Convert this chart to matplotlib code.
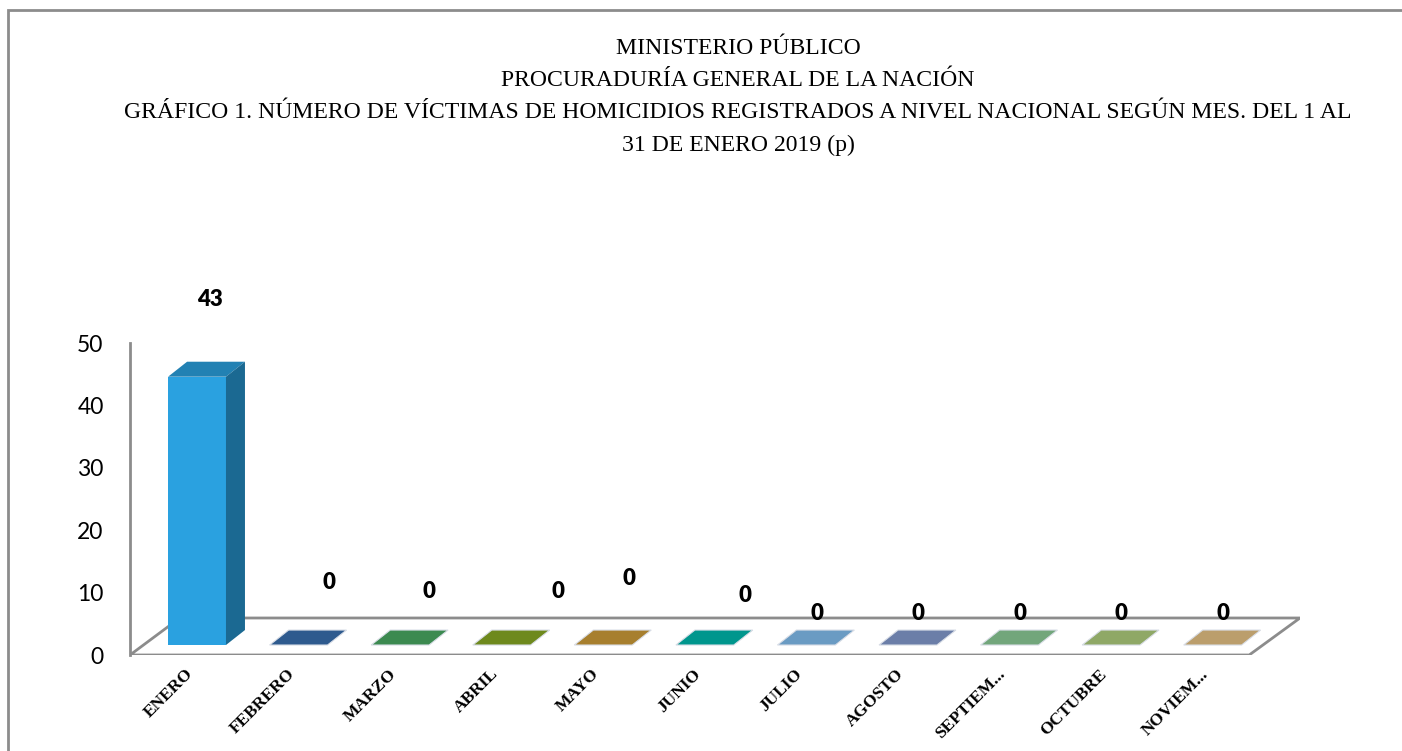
import matplotlib
matplotlib.use("Agg")
import matplotlib.pyplot as plt
import matplotlib.transforms as mtransforms
from matplotlib.patches import Polygon, Rectangle

# chart data
months = ["ENERO", "FEBRERO", "MARZO", "ABRIL", "MAYO", "JUNIO", "JULIO",
          "AGOSTO", "SEPTIEM...", "OCTUBRE", "NOVIEM..."]
victims = [43, 0, 0, 0, 0, 0, 0, 0, 0, 0, 0]
bar_colors = ["#2aa1e0", "#2e5a8e", "#3c8a50", "#6e891d", "#a77f2e", "#00968d",
              "#6a9bc3", "#6b7ea8", "#72a67b", "#8fa866", "#bb9e6c"]
title_lines = ["MINISTERIO PÚBLICO",
               "PROCURADURÍA GENERAL DE LA NACIÓN",
               "GRÁFICO 1. NÚMERO DE VÍCTIMAS DE HOMICIDIOS REGISTRADOS A NIVEL NACIONAL SEGÚN MES. DEL 1 AL",
               "31 DE ENERO 2019 (p)"]
# where excel happened to put the value labels (value units above the floor)
label_y = [57.0, 11.6, 10.2, 10.2, 12.3, 9.5, 6.6, 6.6, 6.6, 6.6, 6.6]
label_dx = [0.13, 0.3, 0.28, 0.55, 0.25, 0.4, 0.1, 0.1, 0.1, 0.1, 0.1]


def darker(c, f):
    r, g, b = matplotlib.colors.to_rgb(c)
    return (r * f, g * f, b * f)


fig = plt.figure(figsize=(14.02, 7.51), dpi=100)

# outer frame of the chart area
fig.patches.append(Rectangle((8 / 1402, -0.1), 1.2, 1 - 10 / 751 + 0.1,
                             transform=fig.transFigure, fill=False,
                             edgecolor="#8c8c8c", linewidth=2))

ax = fig.add_axes([130 / 1402, 1 - 655 / 751, 1170 / 1402, 312 / 751])
ax.set_xlim(-0.66, 10.86)
ax.set_ylim(0, 50)

w = 0.57          # bar front width
dx, dy = 0.187, 2.4   # 3d depth offset
base = 1.6        # bar base above floor front edge

# floor
floor = Polygon([(-0.66, 0), (10.36, 0), (10.86, 5.93), (-0.17, 5.93)],
                closed=True, facecolor="white", edgecolor="#8c8c8c", linewidth=2, zorder=1)
ax.add_patch(floor)

for i, (v, c) in enumerate(zip(victims, bar_colors)):
    x0 = i - w / 2
    if v > 0:
        ax.bar(i, v, width=w, bottom=base, color=c, zorder=3)
        top = Polygon([(x0, base + v), (x0 + w, base + v), (x0 + w + dx, base + v + dy),
                       (x0 + dx, base + v + dy)], closed=True, facecolor=darker(c, 0.8),
                      edgecolor="none", zorder=3)
        side = Polygon([(x0 + w, base), (x0 + w + dx, base + dy), (x0 + w + dx, base + v + dy),
                        (x0 + w, base + v)], closed=True, facecolor=darker(c, 0.65),
                       edgecolor="none", zorder=3)
        ax.add_patch(top)
        ax.add_patch(side)
    else:
        flat = Polygon([(x0, base), (x0 + w, base), (x0 + w + dx, base + dy),
                        (x0 + dx, base + dy)], closed=True, facecolor=c,
                       edgecolor="#d8dde6", linewidth=0.8, zorder=3)
        ax.add_patch(flat)
    ax.text(i + label_dx[i], label_y[i], str(v), ha="center", va="center",
            fontsize=16, fontweight="heavy", family="Lato", zorder=5, clip_on=False)

# axes styling
for s in ["top", "right", "bottom"]:
    ax.spines[s].set_visible(False)
ax.spines["left"].set_color("#8c8c8c")
ax.spines["left"].set_linewidth(2)
ax.set_yticks([0, 10, 20, 30, 40, 50])
ax.tick_params(axis="y", length=0, pad=19, labelsize=16.5)
for t in ax.get_yticklabels():
    t.set_family("Lato")
ax.set_xticks(range(len(months)))
ax.set_xticklabels(months, rotation=45, ha="right", rotation_mode="anchor",
                   family="Liberation Serif", fontweight="bold", fontsize=12.5)
ax.tick_params(axis="x", length=0, pad=8)
shift = mtransforms.ScaledTranslation(-12 / 100, 0, fig.dpi_scale_trans)
for t in ax.get_xticklabels():
    t.set_transform(t.get_transform() + shift)

# title
for k, line in enumerate(title_lines):
    fig.text(738 / 1402, 1 - (48 + 32.5 * k) / 751, line,
             ha="center", va="center", fontsize=17.1, family="Liberation Serif")

fig.savefig("out.png", dpi=100)
